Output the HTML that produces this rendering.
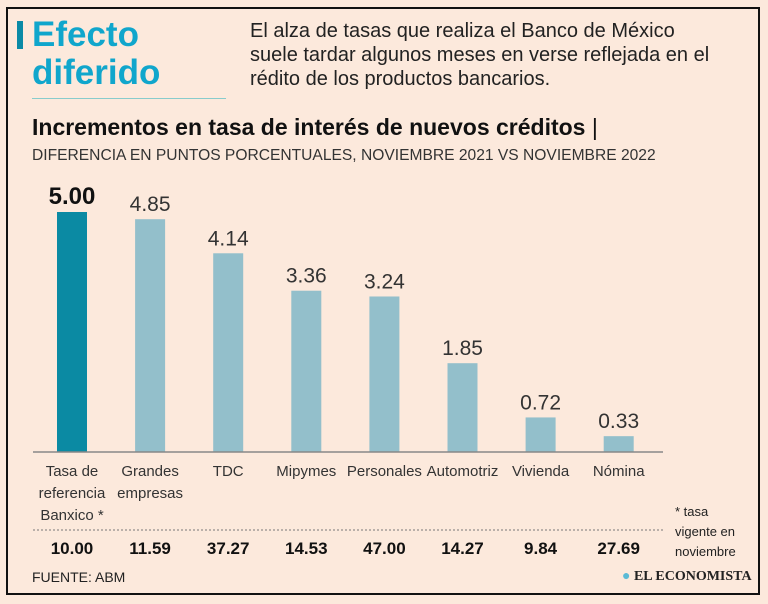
<!DOCTYPE html>
<html><head><meta charset="utf-8"><style>
body{margin:0;width:768px;height:604px;background:#fce9dc;font-family:"Liberation Sans",sans-serif;overflow:hidden;position:relative}
.frame{position:absolute;left:6px;top:7px;width:750px;height:584px;border:2px solid #111}
.t{position:absolute;white-space:nowrap}
</style></head><body>
<div class="frame"></div>
<div class="t" style="left:17px;top:21px;width:6px;height:28px;background:#0a8aa6"></div>
<div class="t" style="left:32px;top:16px;font-size:35px;line-height:38px;font-weight:bold;color:#10a6cc">Efecto<br>diferido</div>
<div class="t" style="left:32px;top:98px;width:194px;height:1px;background:#8cc"></div>
<div class="t" style="left:250px;top:19px;font-size:20px;line-height:24px;color:#222">El alza de tasas que realiza el Banco de México<br>suele tardar algunos meses en verse reflejada en el<br>rédito de los productos bancarios.</div>
<div class="t" style="left:32px;top:114px;font-size:23px;font-weight:bold;color:#111">Incrementos en tasa de interés de nuevos créditos <span style="font-weight:normal">|</span></div>
<div class="t" style="left:32px;top:147px;font-size:15.6px;color:#333">DIFERENCIA EN PUNTOS PORCENTUALES, NOVIEMBRE 2021 VS NOVIEMBRE 2022</div>
<svg id="c" width="768" height="604" style="position:absolute;left:0;top:0"></svg>
<div class="t" style="left:675px;top:502px;font-size:13px;line-height:20px;color:#222">* tasa<br>vigente en<br>noviembre</div>
<div class="t" style="left:32px;top:569px;font-size:14px;color:#222">FUENTE: ABM</div>
<div class="t" style="left:622px;top:569px;font-size:14px;font-weight:bold;font-family:'Liberation Serif',serif;color:#222"><span style="color:#5bbad5">●</span> EL ECONOMISTA</div>
<script>
const categories=[["Tasa de","referencia","Banxico *"],["Grandes","empresas"],["TDC"],["Mipymes"],["Personales"],["Automotriz"],["Vivienda"],["Nómina"]];
const values=[5.00,4.85,4.14,3.36,3.24,1.85,0.72,0.33];
const labels=["5.00","4.85","4.14","3.36","3.24","1.85","0.72","0.33"];
const rates=["10.00","11.59","37.27","14.53","47.00","14.27","9.84","27.69"];
const svg=document.getElementById('c');const NS='http://www.w3.org/2000/svg';
const x=i=>72+i*78.1, y=v=>452-v*48;
function mk(t,a){const e=document.createElementNS(NS,t);for(const k in a)e.setAttribute(k,a[k]);svg.appendChild(e);return e;}
values.forEach((v,i)=>{
 const r=mk('rect',{x:x(i)-15,y:y(v),width:30,height:452-y(v),fill:i==0?'#0b8aa3':'#93bfcb'});
 
 
 const t=mk('text',{x:x(i),y:y(v)-8,'text-anchor':'middle','font-size':i==0?24:21,'font-weight':i==0?'bold':'normal',fill:i==0?'#111':'#333'});
 t.textContent=labels[i];
 
 
 categories[i].forEach((s,j)=>{const c=mk('text',{x:x(i),y:476+j*22,'text-anchor':'middle','font-size':15,fill:'#333'});c.textContent=s;
 
 });
 const rt=mk('text',{x:x(i),y:554,'text-anchor':'middle','font-size':17,'font-weight':'bold',fill:'#111'});rt.textContent=rates[i];
 
 
});
const bl=mk('line',{x1:33,x2:663,y1:452,y2:452,stroke:'#888','stroke-width':1.5});


const dl=mk('line',{x1:33,x2:663,y1:530,y2:530,stroke:'#777','stroke-width':1,'stroke-dasharray':'2,2'});


</script>
</body></html>
